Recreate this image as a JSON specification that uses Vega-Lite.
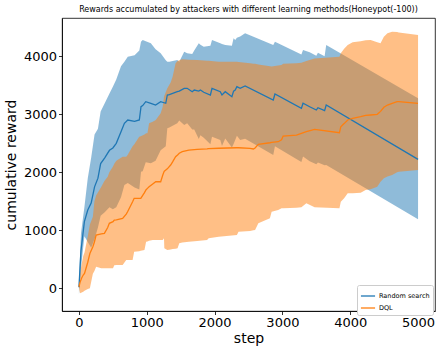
{
  "$schema": "https://vega.github.io/schema/vega-lite/v6.json",
  "width": 373,
  "height": 293,
  "autosize": "none",
  "padding": {"left": 62, "top": 18, "right": 3, "bottom": 35},
  "background": "white",
  "config": {
    "font": "DejaVu Sans",
    "view": {"stroke": "#000", "strokeWidth": 0.8},
    "axis": {"grid": false, "domainColor": "#000", "tickColor": "#000", "labelColor": "#000", "titleColor": "#000", "labelFont": "DejaVu Sans", "titleFont": "DejaVu Sans", "labelFontSize": 13, "titleFontSize": 14, "titleFontWeight": "normal", "tickSize": 3.5, "labelPadding": 2, "domainWidth": 0.8, "tickWidth": 0.8, "format": "d"}
  },
  "title": {"text": "Rewards accumulated by attackers with different learning methods(Honeypot(-100))", "fontSize": 8, "font": "DejaVu Sans", "fontWeight": "normal", "color": "#000", "offset": 4, "anchor": "middle"},
  "datasets": {
    "rs": [
      {"method": "Random search", "step": 0, "mean": 20, "lo": -110, "hi": 150},
      {"method": "Random search", "step": 30, "mean": 650, "lo": 350, "hi": 950},
      {"method": "Random search", "step": 80, "mean": 1150, "lo": 900, "hi": 1400},
      {"method": "Random search", "step": 130, "mean": 1350, "lo": 800, "hi": 1900},
      {"method": "Random search", "step": 180, "mean": 1470, "lo": 700, "hi": 2250},
      {"method": "Random search", "step": 230, "mean": 1750, "lo": 850, "hi": 2650},
      {"method": "Random search", "step": 280, "mean": 1900, "lo": 1050, "hi": 2750},
      {"method": "Random search", "step": 320, "mean": 2150, "lo": 1250, "hi": 3050},
      {"method": "Random search", "step": 380, "mean": 2250, "lo": 1310, "hi": 3190},
      {"method": "Random search", "step": 450, "mean": 2380, "lo": 1400, "hi": 3360},
      {"method": "Random search", "step": 500, "mean": 2420, "lo": 1364, "hi": 3476},
      {"method": "Random search", "step": 550, "mean": 2500, "lo": 1400, "hi": 3600},
      {"method": "Random search", "step": 620, "mean": 2700, "lo": 1570, "hi": 3830},
      {"method": "Random search", "step": 670, "mean": 2845, "lo": 1783, "hi": 3907},
      {"method": "Random search", "step": 720, "mean": 2902, "lo": 1814, "hi": 3990},
      {"method": "Random search", "step": 820, "mean": 2880, "lo": 1740, "hi": 4020},
      {"method": "Random search", "step": 890, "mean": 2902, "lo": 1704, "hi": 4100},
      {"method": "Random search", "step": 915, "mean": 3131, "lo": 2012, "hi": 4250},
      {"method": "Random search", "step": 940, "mean": 3150, "lo": 2020, "hi": 4280},
      {"method": "Random search", "step": 985, "mean": 3217, "lo": 2174, "hi": 4260},
      {"method": "Random search", "step": 1060, "mean": 3190, "lo": 2156, "hi": 4224},
      {"method": "Random search", "step": 1130, "mean": 3160, "lo": 2200, "hi": 4120},
      {"method": "Random search", "step": 1205, "mean": 3217, "lo": 2382, "hi": 4052},
      {"method": "Random search", "step": 1280, "mean": 3190, "lo": 2450, "hi": 3930},
      {"method": "Random search", "step": 1303, "mean": 3333, "lo": 2759, "hi": 3907},
      {"method": "Random search", "step": 1333, "mean": 3340, "lo": 2773, "hi": 3907},
      {"method": "Random search", "step": 1450, "mean": 3390, "lo": 2844, "hi": 3936},
      {"method": "Random search", "step": 1479, "mean": 3400, "lo": 2893, "hi": 3907},
      {"method": "Random search", "step": 1552, "mean": 3448, "lo": 2817, "hi": 4079},
      {"method": "Random search", "step": 1596, "mean": 3448, "lo": 2844, "hi": 4052},
      {"method": "Random search", "step": 1670, "mean": 3390, "lo": 2740, "hi": 4040},
      {"method": "Random search", "step": 1700, "mean": 3419, "lo": 2738, "hi": 4100},
      {"method": "Random search", "step": 1767, "mean": 3400, "lo": 2576, "hi": 4224},
      {"method": "Random search", "step": 1791, "mean": 3419, "lo": 2638, "hi": 4200},
      {"method": "Random search", "step": 1840, "mean": 3380, "lo": 2594, "hi": 4166},
      {"method": "Random search", "step": 1938, "mean": 3333, "lo": 2486, "hi": 4180},
      {"method": "Random search", "step": 1962, "mean": 3448, "lo": 2615, "hi": 4281},
      {"method": "Random search", "step": 2084, "mean": 3390, "lo": 2556, "hi": 4224},
      {"method": "Random search", "step": 2109, "mean": 3333, "lo": 2456, "hi": 4210},
      {"method": "Random search", "step": 2157, "mean": 3390, "lo": 2585, "hi": 4195},
      {"method": "Random search", "step": 2255, "mean": 3303, "lo": 2426, "hi": 4180},
      {"method": "Random search", "step": 2280, "mean": 3400, "lo": 2490, "hi": 4310},
      {"method": "Random search", "step": 2304, "mean": 3419, "lo": 2557, "hi": 4281},
      {"method": "Random search", "step": 2329, "mean": 3476, "lo": 2632, "hi": 4320},
      {"method": "Random search", "step": 2377, "mean": 3448, "lo": 2556, "hi": 4340},
      {"method": "Random search", "step": 2450, "mean": 3488, "lo": 2579, "hi": 4397},
      {"method": "Random search", "step": 2865, "mean": 3247, "lo": 2299, "hi": 4195},
      {"method": "Random search", "step": 2890, "mean": 3350, "lo": 2448, "hi": 4252},
      {"method": "Random search", "step": 3280, "mean": 3103, "lo": 2176, "hi": 4030},
      {"method": "Random search", "step": 3304, "mean": 3190, "lo": 2271, "hi": 4109},
      {"method": "Random search", "step": 3402, "mean": 3131, "lo": 2192, "hi": 4070},
      {"method": "Random search", "step": 3500, "mean": 3074, "lo": 2138, "hi": 4010},
      {"method": "Random search", "step": 3524, "mean": 3114, "lo": 2168, "hi": 4060},
      {"method": "Random search", "step": 3622, "mean": 3062, "lo": 2124, "hi": 4000},
      {"method": "Random search", "step": 3646, "mean": 3160, "lo": 2125, "hi": 4195},
      {"method": "Random search", "step": 5000, "mean": 2224, "lo": 1190, "hi": 3276}
    ],
    "dql": [
      {"method": "DQL", "step": 0, "mean": 28, "lo": 20, "hi": 40},
      {"method": "DQL", "step": 15, "mean": 100, "lo": -86, "hi": 250},
      {"method": "DQL", "step": 40, "mean": 180, "lo": -70, "hi": 420},
      {"method": "DQL", "step": 63, "mean": 230, "lo": -58, "hi": 560},
      {"method": "DQL", "step": 82, "mean": 259, "lo": -40, "hi": 620},
      {"method": "DQL", "step": 130, "mean": 450, "lo": -10, "hi": 900},
      {"method": "DQL", "step": 161, "mean": 600, "lo": 0, "hi": 1100},
      {"method": "DQL", "step": 205, "mean": 717, "lo": 250, "hi": 1234},
      {"method": "DQL", "step": 228, "mean": 800, "lo": 300, "hi": 1500},
      {"method": "DQL", "step": 253, "mean": 919, "lo": 372, "hi": 1600},
      {"method": "DQL", "step": 330, "mean": 940, "lo": 345, "hi": 1750},
      {"method": "DQL", "step": 375, "mean": 948, "lo": 345, "hi": 1850},
      {"method": "DQL", "step": 424, "mean": 1050, "lo": 345, "hi": 1924},
      {"method": "DQL", "step": 448, "mean": 1121, "lo": 345, "hi": 2000},
      {"method": "DQL", "step": 502, "mean": 1150, "lo": 345, "hi": 2100},
      {"method": "DQL", "step": 521, "mean": 1178, "lo": 400, "hi": 2150},
      {"method": "DQL", "step": 551, "mean": 1180, "lo": 402, "hi": 2200},
      {"method": "DQL", "step": 644, "mean": 1207, "lo": 402, "hi": 2269},
      {"method": "DQL", "step": 697, "mean": 1280, "lo": 488, "hi": 2270},
      {"method": "DQL", "step": 717, "mean": 1321, "lo": 488, "hi": 2300},
      {"method": "DQL", "step": 791, "mean": 1493, "lo": 488, "hi": 2450},
      {"method": "DQL", "step": 814, "mean": 1552, "lo": 631, "hi": 2480},
      {"method": "DQL", "step": 888, "mean": 1552, "lo": 640, "hi": 2614},
      {"method": "DQL", "step": 912, "mean": 1552, "lo": 650, "hi": 2620},
      {"method": "DQL", "step": 966, "mean": 1650, "lo": 660, "hi": 2650},
      {"method": "DQL", "step": 990, "mean": 1700, "lo": 803, "hi": 2672},
      {"method": "DQL", "step": 1010, "mean": 1724, "lo": 810, "hi": 2672},
      {"method": "DQL", "step": 1034, "mean": 1750, "lo": 820, "hi": 2845},
      {"method": "DQL", "step": 1088, "mean": 1800, "lo": 833, "hi": 2870},
      {"method": "DQL", "step": 1132, "mean": 1838, "lo": 833, "hi": 2902},
      {"method": "DQL", "step": 1205, "mean": 1838, "lo": 833, "hi": 3017},
      {"method": "DQL", "step": 1235, "mean": 1950, "lo": 833, "hi": 3131},
      {"method": "DQL", "step": 1254, "mean": 2010, "lo": 862, "hi": 3303},
      {"method": "DQL", "step": 1259, "mean": 2020, "lo": 690, "hi": 3320},
      {"method": "DQL", "step": 1303, "mean": 2060, "lo": 660, "hi": 3450},
      {"method": "DQL", "step": 1352, "mean": 2126, "lo": 670, "hi": 3550},
      {"method": "DQL", "step": 1381, "mean": 2180, "lo": 680, "hi": 3648},
      {"method": "DQL", "step": 1425, "mean": 2269, "lo": 685, "hi": 3879},
      {"method": "DQL", "step": 1454, "mean": 2300, "lo": 690, "hi": 3920},
      {"method": "DQL", "step": 1479, "mean": 2330, "lo": 776, "hi": 3930},
      {"method": "DQL", "step": 1523, "mean": 2355, "lo": 790, "hi": 3950},
      {"method": "DQL", "step": 1620, "mean": 2384, "lo": 803, "hi": 3940},
      {"method": "DQL", "step": 1743, "mean": 2397, "lo": 815, "hi": 3936},
      {"method": "DQL", "step": 1889, "mean": 2405, "lo": 833, "hi": 3925},
      {"method": "DQL", "step": 1913, "mean": 2410, "lo": 862, "hi": 3925},
      {"method": "DQL", "step": 2060, "mean": 2415, "lo": 890, "hi": 3907},
      {"method": "DQL", "step": 2329, "mean": 2424, "lo": 919, "hi": 3907},
      {"method": "DQL", "step": 2353, "mean": 2424, "lo": 976, "hi": 3900},
      {"method": "DQL", "step": 2523, "mean": 2414, "lo": 990, "hi": 3879},
      {"method": "DQL", "step": 2572, "mean": 2402, "lo": 1000, "hi": 3870},
      {"method": "DQL", "step": 2597, "mean": 2420, "lo": 1005, "hi": 3870},
      {"method": "DQL", "step": 2645, "mean": 2483, "lo": 1121, "hi": 3860},
      {"method": "DQL", "step": 2816, "mean": 2510, "lo": 1207, "hi": 3830},
      {"method": "DQL", "step": 2841, "mean": 2515, "lo": 1321, "hi": 3825},
      {"method": "DQL", "step": 2938, "mean": 2528, "lo": 1350, "hi": 3840},
      {"method": "DQL", "step": 2987, "mean": 2560, "lo": 1379, "hi": 3850},
      {"method": "DQL", "step": 3011, "mean": 2626, "lo": 1380, "hi": 3870},
      {"method": "DQL", "step": 3207, "mean": 2643, "lo": 1390, "hi": 3880},
      {"method": "DQL", "step": 3280, "mean": 2672, "lo": 1400, "hi": 3890},
      {"method": "DQL", "step": 3353, "mean": 2700, "lo": 1466, "hi": 3920},
      {"method": "DQL", "step": 3475, "mean": 2741, "lo": 1400, "hi": 3960},
      {"method": "DQL", "step": 3841, "mean": 2683, "lo": 1379, "hi": 3990},
      {"method": "DQL", "step": 3861, "mean": 2786, "lo": 1493, "hi": 4052},
      {"method": "DQL", "step": 3910, "mean": 2840, "lo": 1552, "hi": 4130},
      {"method": "DQL", "step": 3963, "mean": 2902, "lo": 1638, "hi": 4195},
      {"method": "DQL", "step": 4036, "mean": 2931, "lo": 1638, "hi": 4240},
      {"method": "DQL", "step": 4154, "mean": 2960, "lo": 1650, "hi": 4260},
      {"method": "DQL", "step": 4227, "mean": 2980, "lo": 1695, "hi": 4275},
      {"method": "DQL", "step": 4300, "mean": 2988, "lo": 1710, "hi": 4280},
      {"method": "DQL", "step": 4398, "mean": 3000, "lo": 1752, "hi": 4240},
      {"method": "DQL", "step": 4447, "mean": 3050, "lo": 1838, "hi": 4224},
      {"method": "DQL", "step": 4496, "mean": 3121, "lo": 1897, "hi": 4338},
      {"method": "DQL", "step": 4549, "mean": 3160, "lo": 1930, "hi": 4397},
      {"method": "DQL", "step": 4618, "mean": 3190, "lo": 1953, "hi": 4424},
      {"method": "DQL", "step": 4691, "mean": 3217, "lo": 2000, "hi": 4420},
      {"method": "DQL", "step": 4716, "mean": 3217, "lo": 2010, "hi": 4410},
      {"method": "DQL", "step": 5000, "mean": 3190, "lo": 2040, "hi": 4367}
    ]
  },
  "encoding": {
    "x": {"field": "step", "type": "quantitative", "title": "step",
      "scale": {"domain": [-250, 5250], "nice": false, "zero": false},
      "axis": {"values": [0, 1000, 2000, 3000, 4000, 5000], "titlePadding": 2}},
    "y": {"field": "mean", "type": "quantitative", "title": "cumulative reward",
      "scale": {"domain": [-390, 4660], "nice": false, "zero": false},
      "axis": {"values": [0, 1000, 2000, 3000, 4000], "titlePadding": 5}}
  },
  "layer": [
    {
      "data": {"name": "rs"},
      "mark": {"type": "area", "color": "#1f77b4", "opacity": 0.5},
      "encoding": {"y": {"field": "lo", "type": "quantitative"}, "y2": {"field": "hi"}}
    },
    {
      "data": {"name": "dql"},
      "mark": {"type": "area", "color": "#ff7f0e", "opacity": 0.5},
      "encoding": {"y": {"field": "lo", "type": "quantitative"}, "y2": {"field": "hi"}}
    },
    {
      "data": {"name": "rs"},
      "mark": {"type": "line", "strokeWidth": 1.3},
      "encoding": {
        "color": {"field": "method", "type": "nominal",
          "scale": {"domain": ["Random search", "DQL"], "range": ["#1f77b4", "#ff7f0e"]},
          "legend": {"orient": "none", "legendX": 295, "legendY": 267, "title": null, "symbolType": "stroke", "symbolSize": 200, "symbolStrokeWidth": 1.3, "labelFontSize": 6.5, "labelFont": "DejaVu Sans", "labelColor": "#000", "fillColor": "white", "strokeColor": "#cccccc", "padding": 3, "cornerRadius": 2, "rowPadding": 0, "labelOffset": 3}}
      }
    },
    {
      "data": {"name": "dql"},
      "mark": {"type": "line", "strokeWidth": 1.3},
      "encoding": {
        "color": {"field": "method", "type": "nominal"}
      }
    }
  ]
}
